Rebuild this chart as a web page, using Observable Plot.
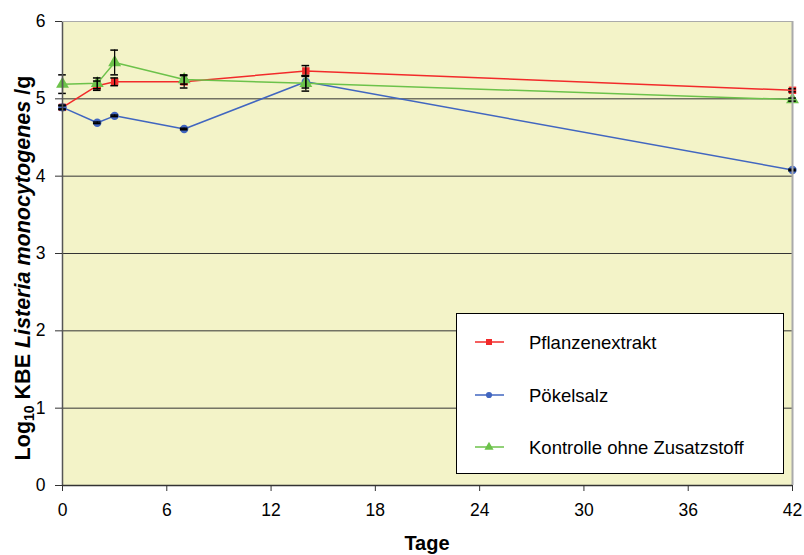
<!DOCTYPE html>
<html><head><meta charset="utf-8">
<script src="https://cdn.jsdelivr.net/npm/d3@7"></script>
<script src="https://cdn.jsdelivr.net/npm/@observablehq/plot@0.6"></script>
<style>
body{margin:0;background:#fff;}
svg{font-family:"Liberation Sans",Arial,sans-serif;}
</style>
</head><body><div id="chart"></div>
<script>
const days = [0, 2, 3, 7, 14, 42];
const seriesNames = ["Pflanzenextrakt", "Pökelsalz", "Kontrolle ohne Zusatzstoff"];
const pflanzen = [4.89, 5.17, 5.22, 5.22, 5.36, 5.11];
const pflanzenErr = [0.03, 0.06, 0.05, 0.08, 0.07, 0.02];
const poekel = [4.89, 4.69, 4.78, 4.61, 5.22, 4.08];
const poekelErr = [0.02, 0.01, 0.01, 0.01, 0.08, 0.01];
const kontrolle = [5.19, 5.20, 5.47, 5.25, 5.20, 4.99];
const kontrolleErr = [0.12, 0.07, 0.16, 0.06, 0.10, 0.02];
const xTicks = [0, 6, 12, 18, 24, 30, 36, 42];
const yTicks = [0, 1, 2, 3, 4, 5, 6];

const colors = ["#f22a2a", "#4166c0", "#6cc24a"];
const symbols = ["square", "circle", "triangle"];
const values = [pflanzen, poekel, kontrolle];
const errs = [pflanzenErr, poekelErr, kontrolleErr];

const rows = [];
seriesNames.forEach((s, i) => days.forEach((d, j) => rows.push({series: s, idx: i, day: d, v: values[i][j], e: errs[i][j]})));

const capW = 0.22;
const marks = [
  Plot.frame({fill: "#f3f3c8", stroke: "none"}),
  Plot.ruleY(yTicks.filter(t => t > 0 && t < 6), {stroke: "#333", strokeWidth: 1}),
];
seriesNames.forEach((s, i) => {
  const d = rows.filter(r => r.idx === i);
  marks.push(Plot.line(d, {x: "day", y: "v", stroke: colors[i], strokeWidth: 1.5}));
  marks.push(Plot.dot(d, {x: "day", y: "v", symbol: symbols[i], fill: colors[i], stroke: "none", r: i === 2 ? 4.8 : 4.2}));
});
marks.push(
  Plot.ruleX(rows, {x: "day", y1: r => r.v - r.e, y2: r => r.v + r.e, stroke: "#000", strokeWidth: 1.2}),
  Plot.ruleY(rows, {y: r => r.v + r.e, x1: r => r.day - capW, x2: r => r.day + capW, stroke: "#000", strokeWidth: 1.5}),
  Plot.ruleY(rows, {y: r => r.v - r.e, x1: r => r.day - capW, x2: r => r.day + capW, stroke: "#000", strokeWidth: 1.5}),
  Plot.ruleX([0], {stroke: "#555", strokeWidth: 1.5}),
  Plot.ruleX([42], {stroke: "#aaa", strokeWidth: 2}),
  Plot.ruleY([6], {stroke: "#aaa", strokeWidth: 1}),
  Plot.ruleY([0], {stroke: "#333", strokeWidth: 1.5}),
  Plot.axisX({ticks: xTicks, tickSize: 6, tickPadding: 12, fontSize: 17.5, label: null, tickFormat: d => String(d)}),
  Plot.axisY({ticks: yTicks, tickSize: 7, tickPadding: 10, fontSize: 17.5, label: null, tickFormat: d => String(d)})
);

const svg = Plot.plot({
  width: 804, height: 555,
  marginLeft: 62, marginRight: 12, marginTop: 21, marginBottom: 70,
  x: {domain: [0, 42]},
  y: {domain: [0, 6]},
  style: {fontFamily: "'Liberation Sans', Arial, sans-serif", color: "#000", background: "#fff"},
  marks
});

const s = d3.select(svg);
s.selectAll("[aria-label='x-axis tick label'] text, [aria-label='y-axis tick label'] text").attr("fill", "#000");
s.selectAll("[aria-label='x-axis tick'], [aria-label='y-axis tick']").attr("stroke", "#333");

// axis titles
s.append("text").attr("x", 427).attr("y", 550).attr("text-anchor", "middle")
  .attr("font-size", 20).attr("font-weight", "bold").attr("fill", "#000").text("Tage");
const yl = s.append("text").attr("transform", "translate(30,268) rotate(-90)").attr("text-anchor", "middle")
  .attr("font-size", 21.5).attr("font-weight", "bold").attr("fill", "#000");
yl.append("tspan").text("Log");
yl.append("tspan").attr("font-size", 14).attr("dy", 4).text("10");
yl.append("tspan").attr("dy", -4).text(" KBE ");
yl.append("tspan").attr("font-style", "italic").text("Listeria monocytogenes");
yl.append("tspan").text(" /g");

// legend
const lg = s.append("g").attr("text-anchor", "start");
lg.append("rect").attr("x", 456.5).attr("y", 313.5).attr("width", 327).attr("height", 160)
  .attr("fill", "#fff").attr("stroke", "#000").attr("stroke-width", 1);
const ly = [342, 395, 447];
const symTypes = [d3.symbolSquare, d3.symbolCircle, d3.symbolTriangle];
seriesNames.forEach((n, i) => {
  lg.append("line").attr("x1", 475).attr("x2", 504).attr("y1", ly[i]).attr("y2", ly[i])
    .attr("stroke", colors[i]).attr("stroke-width", 1.5);
  lg.append("path").attr("d", d3.symbol().type(symTypes[i]).size(i === 1 ? 30 : 36)())
    .attr("transform", `translate(489,${ly[i]})`).attr("fill", colors[i]);
  lg.append("text").attr("x", 529).attr("y", ly[i] + 6.5).attr("text-anchor", "start")
    .attr("font-size", 18.5).attr("fill", "#000").text(n);
});

document.getElementById("chart").appendChild(svg);
</script></body></html>
